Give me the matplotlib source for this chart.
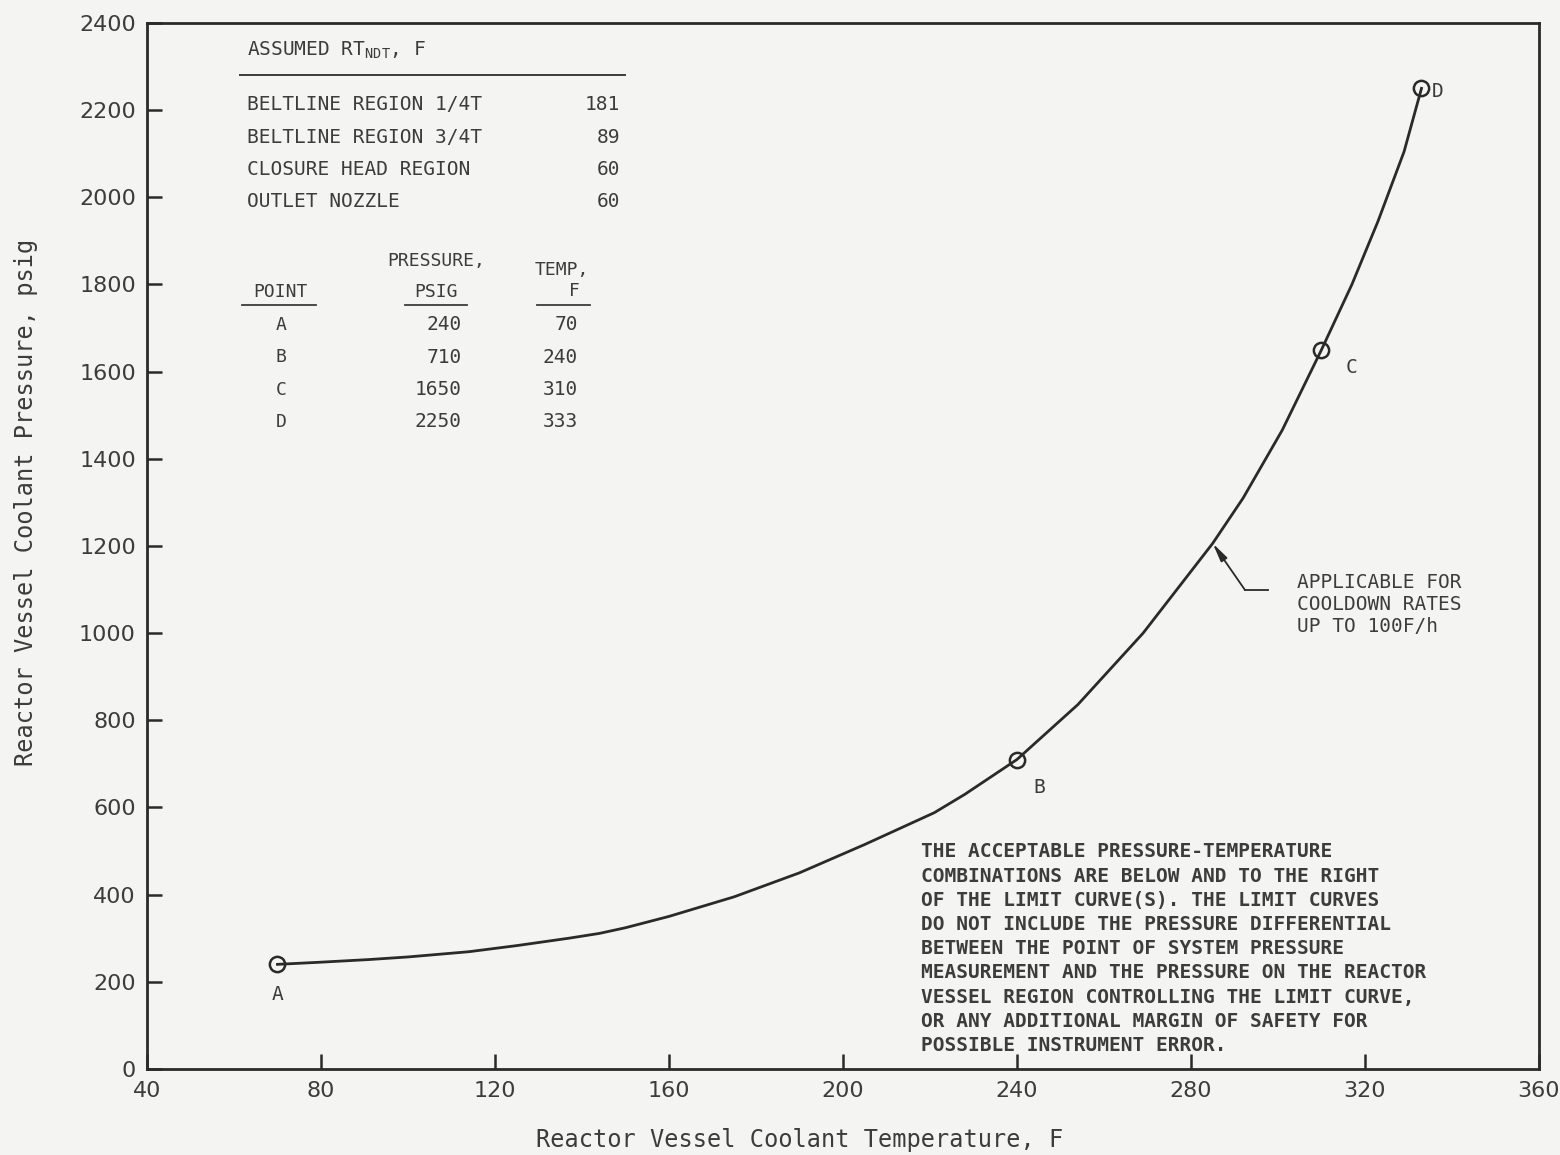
import numpy as np
import matplotlib.pyplot as plt

# limit curve (temperature F, pressure psig)
temp = [70, 80, 91, 100, 114, 125, 137, 144, 150, 160, 175, 190, 205, 221, 228, 240,
        254, 269, 285, 292, 301, 310, 317, 323, 329, 333]
pressure = [240, 245, 251, 257, 269, 283, 300, 311, 324, 350, 395, 450, 515, 588, 630, 710,
            836, 1000, 1206, 1310, 1466, 1650, 1800, 1945, 2105, 2250]

point_names = ['A', 'B', 'C', 'D']
point_psig = [240, 710, 1650, 2250]
point_temp = [70, 240, 310, 333]

rt_regions = ['BELTLINE REGION 1/4T', 'BELTLINE REGION 3/4T',
              'CLOSURE HEAD REGION', 'OUTLET NOZZLE']
rt_values = [181, 89, 60, 60]

note = ['THE ACCEPTABLE PRESSURE-TEMPERATURE',
        'COMBINATIONS ARE BELOW AND TO THE RIGHT',
        'OF THE LIMIT CURVE(S). THE LIMIT CURVES',
        'DO NOT INCLUDE THE PRESSURE DIFFERENTIAL',
        'BETWEEN THE POINT OF SYSTEM PRESSURE',
        'MEASUREMENT AND THE PRESSURE ON THE REACTOR',
        'VESSEL REGION CONTROLLING THE LIMIT CURVE,',
        'OR ANY ADDITIONAL MARGIN OF SAFETY FOR',
        'POSSIBLE INSTRUMENT ERROR.']
cooldown = ['APPLICABLE FOR', 'COOLDOWN RATES', 'UP TO 100F/h']

bg = '#f4f4f2'
ink = '#2a2a2a'
txt = '#3c3c3c'
mono = 'DejaVu Sans Mono'

fig = plt.figure(figsize=(15.6, 11.55), dpi=100, facecolor=bg)
ax = fig.add_axes([0.0942, 0.0745, 0.8923, 0.9056])
ax.set_facecolor(bg)

ax.plot(temp, pressure, color=ink, lw=2.0, solid_joinstyle='round')
ax.plot(point_temp, point_psig, 'o', ms=11, mfc='none', mec=ink, mew=1.8)

# point letters, offsets in pixels
offs = {'A': (0, -70), 'B': (22, -65), 'C': (30, -40), 'D': (16, -8)}
for n, t, p in zip(point_names, point_temp, point_psig):
    dx, dy = offs[n]
    ax.text(t + dx / 4.35, p + dy, n, color=txt, fontsize=14, family=mono,
            ha='center', va='center')

ax.set_xlim(40, 360)
ax.set_ylim(0, 2400)
ax.set_xticks(np.arange(40, 361, 40))
ax.set_yticks(np.arange(0, 2401, 200))
ax.tick_params(direction='in', length=11, width=1.8, color=ink,
               labelsize=16, labelcolor=txt)
ax.tick_params(axis='x', pad=9)
ax.tick_params(axis='y', pad=8)
for s in ax.spines.values():
    s.set_linewidth(2.0)
    s.set_color(ink)

ax.set_xlabel('Reactor Vessel Coolant Temperature, F', fontsize=17,
              color=txt, family=mono)
ax.set_ylabel('Reactor Vessel Coolant Pressure, psig', fontsize=17,
              color=txt, family=mono)
ax.xaxis.set_label_coords(0.469, -0.056)
ax.yaxis.set_label_coords(-0.078, 0.542)

# pixel helpers for placing text blocks
def px(x):
    return 40 + (x - 147) / 4.35

def py(y):
    return (1069 - y) / 0.4358

fs = 14
tk = dict(color=txt, fontsize=fs, family=mono, va='center')
ax.text(px(247), py(50), r'ASSUMED RT$_{\mathregular{NDT}}$, F', **tk)
ax.plot([px(240), px(625)], [py(75), py(75)], color=txt, lw=1.4)
for i, (r, v) in enumerate(zip(rt_regions, rt_values)):
    y = py(105 + i * 32.3)
    ax.text(px(247), y, r, **tk)
    ax.text(px(620), y, str(v), ha='right', **tk)

hd = dict(color=txt, fontsize=13, family=mono, va='center', ha='center')
ax.text(px(280), py(292), 'POINT', **hd)
ax.text(px(436), py(261), 'PRESSURE,', **hd)
ax.text(px(436), py(292), 'PSIG', **hd)
ax.text(px(562), py(270), 'TEMP,', **hd)
ax.text(px(574), py(291), 'F', **hd)
for a, b in [(242, 316), (405, 467), (537, 590)]:
    ax.plot([px(a), px(b)], [py(305), py(305)], color=txt, lw=1.3)
for i, (n, p, t) in enumerate(zip(point_names, point_psig, point_temp)):
    y = py(325 + i * 32.3)
    ax.text(px(281), y, n, **hd)
    ax.text(px(462), y, str(p), ha='right', **tk)
    ax.text(px(578), y, str(t), ha='right', **tk)

# note block
for i, line in enumerate(note):
    ax.text(px(921), py(852 + i * 24.2), line, color=txt, fontsize=fs,
            family=mono, va='center', fontweight='bold')

# cooldown leader
tip = (temp[18], pressure[18])
knee = (px(1245), py(590))
ax.annotate('', xy=tip, xytext=knee,
            arrowprops=dict(arrowstyle='-|>,head_length=1.1,head_width=0.22',
                            lw=1.3, color=ink, shrinkA=0, shrinkB=0))
ax.plot([knee[0], px(1268)], [knee[1], knee[1]], color=ink, lw=1.3)
for i, line in enumerate(cooldown):
    ax.text(px(1297), py(583 + i * 22), line, color=txt, fontsize=fs,
            family=mono, va='center')

fig.savefig('out.png', dpi=100, facecolor=bg)
